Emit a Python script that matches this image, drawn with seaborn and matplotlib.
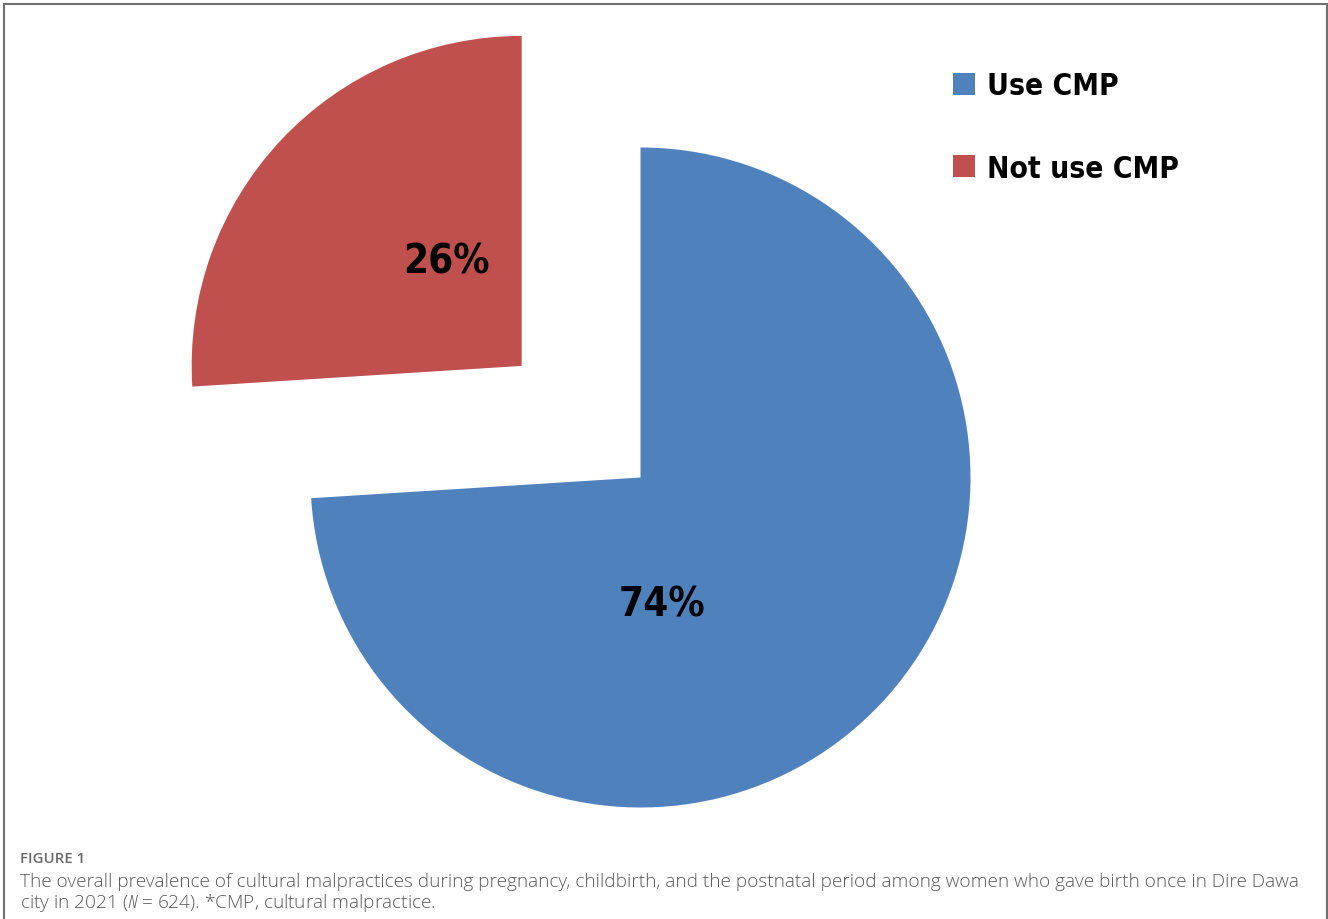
import matplotlib
matplotlib.use("Agg")
import matplotlib.pyplot as plt
import seaborn as sns

# data
labels = ["Use CMP", "Not use CMP"]
shares = [74, 26]
colors = ["#4F81BD", "#C0504D"]
explode = [0, 0.494]

caption_head = "FIGURE 1"
caption_1 = ("The overall prevalence of cultural malpractices during pregnancy, childbirth, "
             "and the postnatal period among women who gave birth once in Dire Dawa")
caption_2 = "city in 2021 ($N$ = 624). *CMP, cultural malpractice."

sns.set_theme(style="white")
plt.rcParams["font.family"] = ["DejaVu Sans"]
plt.rcParams["font.stretch"] = "condensed"
plt.rcParams["mathtext.fontset"] = "custom"
plt.rcParams["mathtext.it"] = "Open Sans:italic"
plt.rcParams["mathtext.rm"] = "Open Sans"

W, H = 1328, 920
fig = plt.figure(figsize=(W / 100, H / 100), dpi=100)

# pie centre at pixel (640.5, 478.5), radius 330 px
cx, cy, r = 640.5, 478.5, 330.0
ax = fig.add_axes([0, 0, 1, 1])

wedges, texts, autotexts = ax.pie(
    shares, colors=colors, explode=explode, startangle=90, counterclock=False,
    autopct="%d%%", radius=1, center=(0, 0),
    wedgeprops=dict(linewidth=0),
    textprops=dict(fontsize=29, fontweight="bold", color="black",
                   fontstretch="condensed"),
)
ax.set_xlim(-cx / r, (W - cx) / r)
ax.set_ylim(-(H - cy) / r, cy / r)
ax.set_aspect("equal")
ax.axis("off")

# percent labels sit off the natural wedge positions in the original
label_pos = [(0.065, -0.386), (-0.589, 0.656)]
for t, p in zip(autotexts, label_pos):
    t.set_position(p)
    t.set_ha("center")
    t.set_va("center")

leg = fig.legend(
    wedges, labels, loc="upper left",
    bbox_to_anchor=(953 / W, 1 - 72 / H),
    frameon=False,
    prop=dict(weight="bold", size=21.5, stretch="condensed"),
    labelcolor="black",
    handlelength=0.75, handleheight=0.75, handletextpad=0.4,
    labelspacing=1.8, borderaxespad=0, borderpad=0,
)

# frame around the chart
frame = plt.Rectangle((4 / W, -0.01), 1323 / W, 1 - 5 / H + 0.01,
                      transform=fig.transFigure, fill=False,
                      edgecolor="#707070", linewidth=1.5)
fig.patches.append(frame)

cap_font = ["Open Sans", "DejaVu Sans"]
fig.text(20 / W, 1 - 863 / H, caption_head, family=cap_font, fontsize=10.8,
         fontweight="semibold", color="#6a6a6a", va="baseline", ha="left",
         fontstretch="normal")
fig.text(20 / W, 1 - 887 / H, caption_1, family=cap_font, fontsize=13.68,
         fontweight="light", color="#5a5a5a", va="baseline", ha="left",
         fontstretch="normal")
fig.text(20 / W, 1 - 908 / H, caption_2, family=cap_font, fontsize=13.68,
         fontweight="light", color="#5a5a5a", va="baseline", ha="left",
         fontstretch="normal")

fig.savefig("out.png", dpi=100)
